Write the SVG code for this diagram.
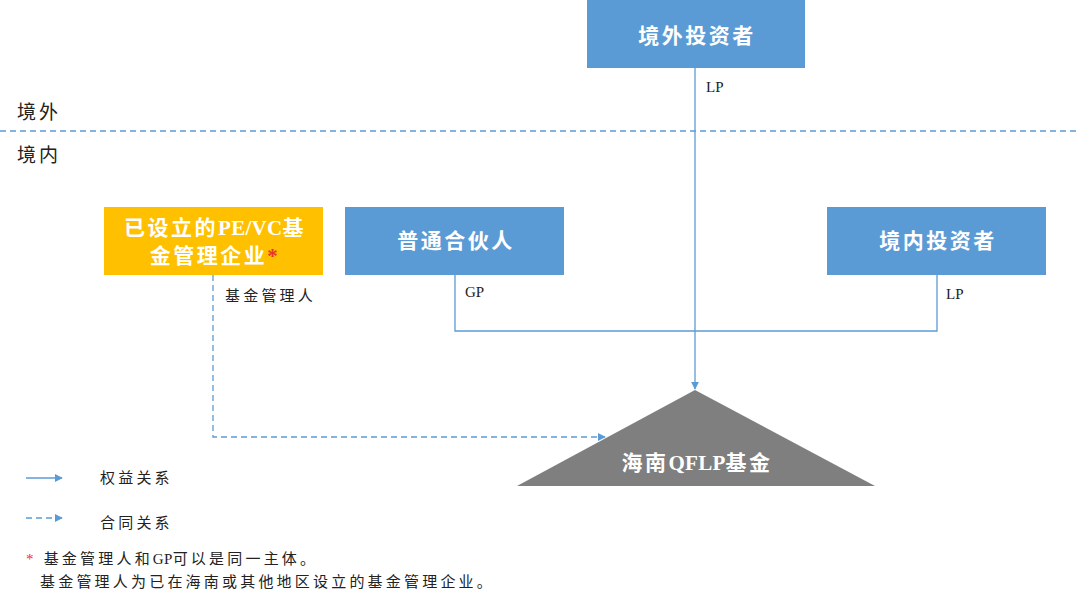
<svg xmlns="http://www.w3.org/2000/svg" width="1080" height="604" viewBox="0 0 1080 604">
<style>
.box{fill:#5B9BD5}
.bt{font-family:"Liberation Serif","Noto Sans CJK SC",serif;font-size:21px;fill:#fff;text-anchor:middle;font-weight:bold;letter-spacing:2.5px}
.lb{font-family:"Liberation Serif","Noto Sans CJK SC",serif;font-size:15px;fill:#222}
.cj{letter-spacing:3.2px}
.la{letter-spacing:0.3px}
.rg{font-family:"Liberation Serif","Noto Sans CJK SC",serif;font-size:19px;fill:#222;letter-spacing:3px}
.ln{fill:none;stroke:#5B9BD5;stroke-width:1.3}
.dl{fill:none;stroke:#5B9BD5;stroke-width:1.3;stroke-dasharray:6 4}
</style>
<defs>
<marker id="ah" viewBox="0 0 10 10" refX="9" refY="5" markerWidth="8" markerHeight="8" markerUnits="userSpaceOnUse" orient="auto"><path d="M0,0 L10,5 L0,10 z" fill="#5B9BD5"/></marker>
</defs>
<rect width="1080" height="604" fill="#fff"/>
<text class="rg" x="17" y="119">境外</text>
<line x1="0" y1="131" x2="1080" y2="131" stroke="#5B9BD5" stroke-width="1.3" stroke-dasharray="6 4"/>
<text class="rg" x="17" y="162">境内</text>
<g id="connectors">
<line class="ln" x1="695" y1="68" x2="695" y2="389" marker-end="url(#ah)"/>
<polyline class="ln" points="455,275 455,331 937,331 937,275"/>
<polyline class="dl" points="213,275 213,437 605,437" marker-end="url(#ah)"/>
<text class="lb" x="706" y="92">LP</text>
<text class="lb" x="465" y="297">GP</text>
<text class="lb" x="946" y="299">LP</text>
<text class="lb cj" x="225" y="301">基金管理人</text>
</g>
<g id="offshore-investor">
<rect class="box" x="587" y="0" width="218" height="68"/>
<text class="bt" x="697" y="43">境外投资者</text>
</g>
<g id="pevc-manager">
<rect x="104" y="207" width="219" height="68" fill="#FFC000"/>
<text class="bt" x="215" y="235">已设立的<tspan class="la">PE/VC</tspan>基</text>
<text class="bt" x="215" y="263">金管理企业<tspan fill="#E8332A">*</tspan></text>
</g>
<g id="gp">
<rect class="box" x="345" y="207" width="219" height="68"/>
<text class="bt" x="456" y="248">普通合伙人</text>
</g>
<g id="onshore-investor">
<rect class="box" x="827" y="207" width="219" height="68"/>
<text class="bt" x="938" y="248">境内投资者</text>
</g>
<g id="fund">
<polygon points="695,390 875,486 517,486" fill="#7F7F7F"/>
<text class="bt" x="697" y="470">海南<tspan class="la">QFLP</tspan>基金</text>
</g>
<g id="legend">
<line class="ln" x1="26" y1="478" x2="62" y2="478" marker-end="url(#ah)"/>
<text class="lb cj" x="100" y="483">权益关系</text>
<line class="dl" x1="26" y1="518" x2="62" y2="518" stroke-dasharray="4 3" marker-end="url(#ah)"/>
<text class="lb cj" x="100" y="528">合同关系</text>
<text class="lb cj" x="26" y="564"><tspan fill="#E8332A">*</tspan> 基金管理人和<tspan class="la">GP</tspan>可以是同一主体。</text>
<text class="lb cj" x="40" y="587">基金管理人为已在海南或其他地区设立的基金管理企业。</text>
</g>
</svg>
